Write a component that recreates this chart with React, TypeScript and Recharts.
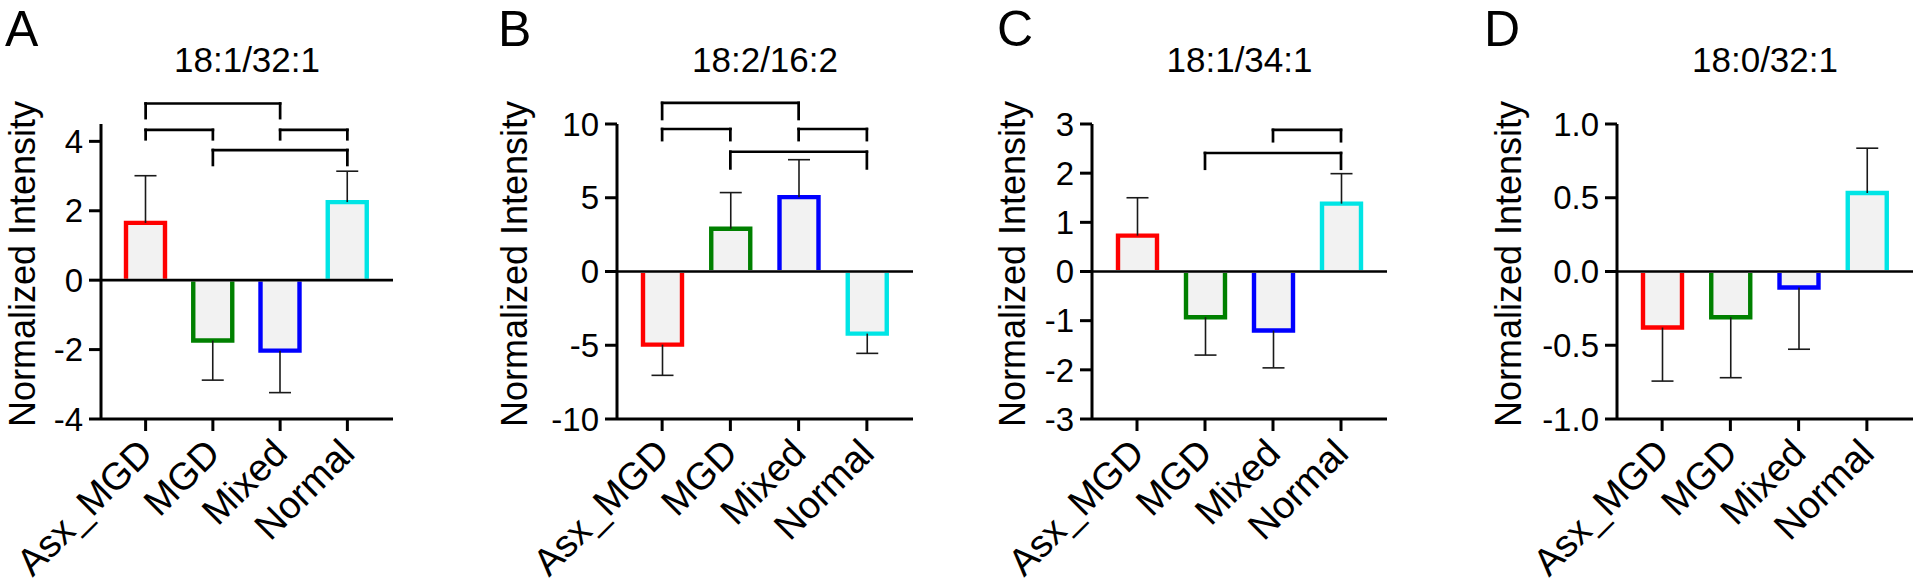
import { BarChart, Bar, XAxis, YAxis, ReferenceLine } from "recharts";

const FONT = "'Liberation Sans', Arial, Helvetica, sans-serif";

const CATEGORIES = ["Asx_MGD", "MGD", "Mixed", "Normal"];
const BAR_COLORS = ["#ff0000", "#008000", "#0000ff", "#00e5e5"];
const BAR_FILL = "#f2f2f2";

// A: 18:1/32:1
const A_MEANS = [1.65, -1.74, -2.03, 2.25];
const A_ERRORS = [1.36, 1.14, 1.21, 0.89];
const A_TICKS = [-4, -2, 0, 2, 4];
// [from, to, bar level, leg end]
const A_BRACKETS: [string, string, number, number][] = [
  ["Asx_MGD", "Mixed", 5.09, 4.67],
  ["Asx_MGD", "MGD", 4.33, 4.06],
  ["Mixed", "Normal", 4.33, 4.06],
  ["MGD", "Normal", 3.75, 3.32],
];

// B: 18:2/16:2
const B_MEANS = [-4.96, 2.9, 5.04, -4.21];
const B_ERRORS = [2.08, 2.45, 2.54, 1.34];
const B_TICKS = [-10, -5, 0, 5, 10];
const B_BRACKETS: [string, string, number, number][] = [
  ["Asx_MGD", "Mixed", 11.43, 10.34],
  ["Asx_MGD", "MGD", 9.66, 8.91],
  ["Mixed", "Normal", 9.66, 8.91],
  ["MGD", "Normal", 8.12, 6.99],
];

// C: 18:1/34:1
const C_MEANS = [0.73, -0.93, -1.2, 1.38];
const C_ERRORS = [0.77, 0.77, 0.76, 0.61];
const C_TICKS = [-3, -2, -1, 0, 1, 2, 3];
const C_BRACKETS: [string, string, number, number][] = [
  ["Mixed", "Normal", 2.88, 2.65],
  ["MGD", "Normal", 2.41, 2.09],
];

// D: 18:0/32:1
const D_MEANS = [-0.38, -0.31, -0.108, 0.532];
const D_ERRORS = [0.363, 0.41, 0.419, 0.304];
const D_TICKS = [-1, -0.5, 0, 0.5, 1];

const PLOT_TOP = 124;
const PLOT_BOTTOM = 419;
const HEIGHT = 587;

function OutlinedBar(props: any) {
  const { x, y, width, height, payload } = props;
  const top = Math.min(y, y + height);
  const bottom = Math.max(y, y + height);
  const h = bottom - top;
  const v = payload.mean;
  const up = v >= 0;
  const ppu = Math.abs(v) > 0 ? h / Math.abs(v) : 0;
  const cx = x + width / 2;
  const cut = 1.4; // keep the zero line visible
  const tip = up ? top : bottom;
  const base = up ? bottom - cut : top + cut;
  const errEnd = up ? top - payload.error * ppu : bottom + payload.error * ppu;
  const outline = `M${x},${base} L${x},${tip} L${x + width},${tip} L${x + width},${base}`;
  return (
    <g>
      <rect x={x} y={Math.min(tip, base)} width={width} height={Math.abs(base - tip)} fill={BAR_FILL} />
      <path d={outline} fill="none" stroke={payload.color} strokeWidth={4.4} strokeLinejoin="miter" />
      <line x1={cx} y1={tip} x2={cx} y2={errEnd} stroke="#1a1a1a" strokeWidth={1.6} />
      <line x1={cx - 11} y1={errEnd} x2={cx + 11} y2={errEnd} stroke="#1a1a1a" strokeWidth={1.6} />
    </g>
  );
}

function RotatedTick(props: any) {
  const { x, y, payload } = props;
  const oy = y + 13;
  return (
    <text
      x={x}
      y={oy}
      dy="0.35em"
      textAnchor="end"
      transform={`rotate(-45, ${x}, ${oy})`}
      fontSize={38}
      fontFamily={FONT}
      fill="#000"
    >
      {payload.value}
    </text>
  );
}

type PanelProps = {
  means: number[];
  errors: number[];
  ticks: number[];
  domain: [number, number];
  digits: number;
  brackets: [string, string, number, number][];
  left: number;
  plotLeft: number;
  plotRight: number;
};

function Panel({ means, errors, ticks, domain, digits, brackets, left, plotLeft, plotRight }: PanelProps) {
  const rows = CATEGORIES.map((name, i) => ({
    name,
    mean: means[i],
    error: errors[i],
    color: BAR_COLORS[i],
  }));
  const line = { stroke: "#000", strokeWidth: 3 };
  return (
    <div style={{ position: "absolute", left, top: 0 }}>
      <BarChart
        width={plotRight - left + 4}
        height={HEIGHT}
        data={rows}
        margin={{ top: PLOT_TOP, right: 4, bottom: 0, left: 0 }}
        barSize={39}
      >
        <XAxis
          dataKey="name"
          type="category"
          interval={0}
          height={HEIGHT - PLOT_BOTTOM}
          padding={{ left: 11, right: 12 }}
          axisLine={line}
          tickLine={line}
          tickSize={12}
          tick={<RotatedTick />}
        />
        <YAxis
          type="number"
          domain={domain}
          ticks={ticks}
          interval={0}
          allowDataOverflow
          width={plotLeft - left}
          tickSize={12}
          tickMargin={6}
          tickFormatter={(v: number) => v.toFixed(digits)}
          tick={{ fontSize: 33, fill: "#000", fontFamily: FONT }}
          axisLine={line}
          tickLine={line}
        />
        <Bar dataKey="mean" isAnimationActive={false} shape={OutlinedBar} />
        <ReferenceLine y={0} stroke="#000" strokeWidth={2.7} />
        {brackets.map(([from, to, lvl, leg], i) => [
          <ReferenceLine
            key={`h${i}`}
            ifOverflow="visible"
            segment={[{ x: from, y: lvl }, { x: to, y: lvl }]}
            stroke="#000"
            strokeWidth={2.7}
            strokeLinecap="square"
          />,
          <ReferenceLine
            key={`l${i}`}
            ifOverflow="visible"
            segment={[{ x: from, y: lvl }, { x: from, y: leg }]}
            stroke="#000"
            strokeWidth={2.7}
            strokeLinecap="square"
          />,
          <ReferenceLine
            key={`r${i}`}
            ifOverflow="visible"
            segment={[{ x: to, y: lvl }, { x: to, y: leg }]}
            stroke="#000"
            strokeWidth={2.7}
            strokeLinecap="square"
          />,
        ])}
      </BarChart>
    </div>
  );
}

const PANELS = [
  { letter: "A", letterX: 5, title: "18:1/32:1", labelX: 35, left: 0, plotLeft: 101, plotRight: 393 },
  { letter: "B", letterX: 498, title: "18:2/16:2", labelX: 527, left: 480, plotLeft: 617, plotRight: 913 },
  { letter: "C", letterX: 997, title: "18:1/34:1", labelX: 1025, left: 960, plotLeft: 1092, plotRight: 1387 },
  { letter: "D", letterX: 1484, title: "18:0/32:1", labelX: 1521, left: 1440, plotLeft: 1617, plotRight: 1913 },
];

export default function App() {
  const [a, b, c, d] = PANELS;
  return (
    <div
      style={{
        position: "absolute",
        left: 0,
        top: 0,
        width: 1920,
        height: HEIGHT,
        background: "#fff",
        overflow: "hidden",
        fontFamily: FONT,
      }}
    >
      <Panel means={A_MEANS} errors={A_ERRORS} ticks={A_TICKS} domain={[-4, 4.5]} digits={0} brackets={A_BRACKETS} left={a.left} plotLeft={a.plotLeft} plotRight={a.plotRight} />
      <Panel means={B_MEANS} errors={B_ERRORS} ticks={B_TICKS} domain={[-10, 10]} digits={0} brackets={B_BRACKETS} left={b.left} plotLeft={b.plotLeft} plotRight={b.plotRight} />
      <Panel means={C_MEANS} errors={C_ERRORS} ticks={C_TICKS} domain={[-3, 3]} digits={0} brackets={C_BRACKETS} left={c.left} plotLeft={c.plotLeft} plotRight={c.plotRight} />
      <Panel means={D_MEANS} errors={D_ERRORS} ticks={D_TICKS} domain={[-1, 1]} digits={1} brackets={[]} left={d.left} plotLeft={d.plotLeft} plotRight={d.plotRight} />
      <svg
        width={1920}
        height={HEIGHT}
        style={{ position: "absolute", left: 0, top: 0, pointerEvents: "none" }}
      >
        {PANELS.map((p) => (
          <g key={p.letter} fontFamily={FONT} fill="#000">
            <text x={p.letterX} y={46} fontSize={50}>
              {p.letter}
            </text>
            <text x={(p.plotLeft + p.plotRight) / 2} y={72} fontSize={35} textAnchor="middle">
              {p.title}
            </text>
            <text
              x={p.labelX}
              y={264}
              fontSize={36}
              textAnchor="middle"
              transform={`rotate(-90, ${p.labelX}, 264)`}
            >
              Normalized Intensity
            </text>
          </g>
        ))}
      </svg>
    </div>
  );
}
